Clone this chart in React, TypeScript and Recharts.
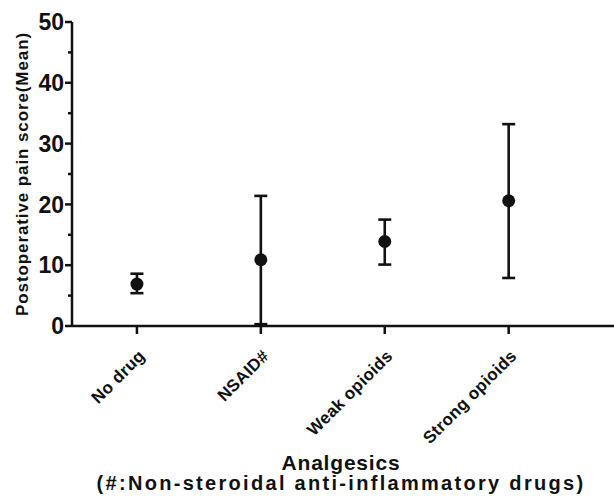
import React from 'react';
import { ScatterChart, Scatter, XAxis, YAxis, ErrorBar, Label } from 'recharts';

const categories = ['No drug', 'NSAID#', 'Weak opioids', 'Strong opioids'];
const means = [6.9, 10.9, 13.9, 20.6];
const lowerValues = [5.4, 0.3, 10.1, 7.9];
const upperValues = [8.6, 21.4, 17.5, 33.2];
const yTicks = [0, 5, 10, 15, 20, 25, 30, 35, 40, 45, 50];

const data = categories.map((name, i) => ({
  x: i + 1,
  name,
  mean: means[i],
  err: [means[i] - lowerValues[i], upperValues[i] - means[i]],
}));

const INK = '#111';
const FONT = '"Liberation Sans", Arial, sans-serif';

const YTick = (props: any) => {
  const { x, y, payload } = props;
  const major = payload.value % 10 === 0;
  const axisX = x + 8;
  return (
    <g>
      <line x1={axisX - (major ? 7 : 4)} x2={axisX} y1={y} y2={y} stroke={INK} strokeWidth={2.5} />
      {major && (
        <text x={x} y={y} dy="0.36em" textAnchor="end" fontFamily={FONT} fontWeight="bold" fontSize={23} fill={INK}>
          {payload.value}
        </text>
      )}
    </g>
  );
};

const XTick = (props: any) => {
  const { x, y, payload } = props;
  const label = categories[payload.value - 1];
  return (
    <g transform={`translate(${x + 9},${y + 21})`}>
      <text transform="rotate(-45)" textAnchor="end" fontFamily={FONT} fontWeight="bold" fontSize={17} letterSpacing={0.3} fill={INK}>
        {label}
      </text>
    </g>
  );
};

const XTitle = (props: any) => {
  const vb = props.viewBox;
  const cx = vb.x + vb.width / 2 - 2;
  return (
    <g fontFamily={FONT} fontWeight="bold" fill={INK} textAnchor="middle">
      <text x={cx} y={vb.y + 144} fontSize={21} letterSpacing={0.8}>Analgesics</text>
      <text x={cx} y={vb.y + 164} fontSize={20} letterSpacing={2.3}>(#:Non-steroidal anti-inflammatory drugs)</text>
    </g>
  );
};

const YTitle = (props: any) => {
  const vb = props.viewBox;
  const cy = vb.y + vb.height / 2;
  const tx = 28;
  return (
    <text x={tx} y={cy} transform={`rotate(-90, ${tx}, ${cy})`} textAnchor="middle" fontFamily={FONT} fontWeight="bold" fontSize={17} letterSpacing={0.9} fill={INK}>
      Postoperative pain score(Mean)
    </text>
  );
};

const Dot = (props: any) => <circle cx={props.cx} cy={props.cy} r={6.5} fill={INK} />;

export default function App() {
  return (
    <div style={{ position: 'absolute', left: 0, top: 0, width: 614, height: 503, background: '#fff' }}>
      <ScatterChart width={614} height={503} margin={{ top: 22, right: 0, bottom: 0, left: 0 }}>
        <XAxis
          type="number"
          dataKey="x"
          domain={[0.476, 4.85]}
          ticks={[1, 2, 3, 4]}
          height={177}
          tickSize={8}
          tickMargin={2}
          axisLine={{ stroke: INK, strokeWidth: 2.5 }}
          tickLine={{ stroke: INK, strokeWidth: 2.5 }}
          tick={<XTick />}
          allowDataOverflow
        >
          <Label content={<XTitle />} />
        </XAxis>
        <YAxis
          type="number"
          dataKey="mean"
          domain={[0, 50]}
          ticks={yTicks}
          interval={0}
          width={72}
          tickSize={7}
          tickMargin={1}
          axisLine={{ stroke: INK, strokeWidth: 2.5 }}
          tickLine={false}
          tick={<YTick />}
          allowDataOverflow
        >
          <Label content={<YTitle />} />
        </YAxis>
        <Scatter data={data} fill={INK} shape={<Dot />} isAnimationActive={false}>
          <ErrorBar dataKey="err" direction="y" width={6.5} stroke={INK} strokeWidth={2.6} />
        </Scatter>
      </ScatterChart>
    </div>
  );
}
